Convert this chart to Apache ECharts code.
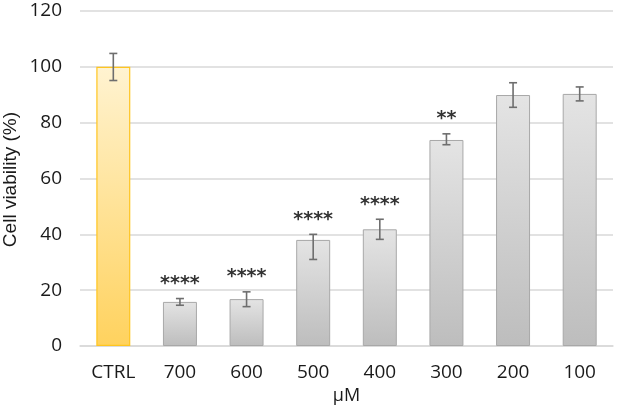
<!DOCTYPE html>
<html><head><meta charset="utf-8">
<script src="https://cdn.jsdelivr.net/npm/echarts@6/dist/echarts.min.js"></script>
<style>html,body{margin:0;padding:0;background:#fff}#c{width:622px;height:410px}</style>
</head><body><div id="c"></div>
<script>
var categories = ['CTRL','700','600','500','400','300','200','100'];
var values = [100, 15.8, 16.8, 38, 41.8, 73.8, 89.9, 90.3];
var errLow = [95.1, 14.6, 14.1, 31, 38.2, 72.1, 85.5, 87.8];
var errHigh = [104.8, 17, 19.4, 40, 45.4, 76, 94.3, 92.8];
var stars = ['', '****', '****', '****', '****', '**', '', ''];
var yTicks = [0, 20, 40, 60, 80, 100, 120];

var chart = echarts.init(document.getElementById('c'));
var grayGrad = new echarts.graphic.LinearGradient(0,0,0,1,[{offset:0,color:'#E4E4E4'},{offset:1,color:'#BDBDBD'}]);
var yelGrad = new echarts.graphic.LinearGradient(0,0,0,1,[{offset:0,color:'#FFF3D1'},{offset:1,color:'#FFD25E'}]);
var barData = values.map(function(v,i){
  return i===0 ? {value:v, itemStyle:{color:yelGrad, borderColor:'#FFC520', borderWidth:1.2}}
               : {value:v, itemStyle:{color:grayGrad, borderColor:'#A8A8A8', borderWidth:1}};
});
chart.setOption({
  animation:false,
  grid:{left:80, right:9, top:11, bottom:61},
  xAxis:{type:'category', data:categories,
    axisLine:{show:true, lineStyle:{color:'#D9D9D9', width:1.5}}, axisTick:{show:false},
    axisLabel:{fontFamily:'Open Sans', fontSize:19, color:'#1a1a1a', margin:17},
    name:'\u03bcM', nameLocation:'middle', nameGap:41,
    nameTextStyle:{fontFamily:'Open Sans', fontSize:18, color:'#1a1a1a'}},
  yAxis:{type:'value', min:0, max:120, interval:20,
    axisLine:{show:false}, axisTick:{show:false},
    splitLine:{lineStyle:{color:'#D9D9D9', width:1.5}},
    axisLabel:{fontFamily:'Open Sans', fontSize:19, color:'#1a1a1a', margin:18,
      formatter:function(v){return yTicks.indexOf(v)>=0?String(v):'';}}},
  graphic:[{type:'text', left:1, top:112, rotation:Math.PI/2,
    style:{text:'Cell viability (%)', font:'19px "Liberation Sans", Arial', fill:'#1a1a1a'}}],
  series:[
    {type:'bar', data:barData, barWidth:'51%', z:2},
    {type:'custom', z:3,
      data:categories.map(function(c,i){return [i, errLow[i], errHigh[i]];}),
      renderItem:function(params, api){
        var i = params.dataIndex;
        var x = api.value(0);
        var lo = api.coord([x, api.value(1)]);
        var hi = api.coord([x, api.value(2)]);
        var w = 4;
        var st = {stroke:'#6E6E6E', lineWidth:1.6};
        var ch = [
          {type:'line', shape:{x1:lo[0],y1:lo[1],x2:hi[0],y2:hi[1]}, style:st},
          {type:'line', shape:{x1:lo[0]-w,y1:lo[1],x2:lo[0]+w,y2:lo[1]}, style:st},
          {type:'line', shape:{x1:hi[0]-w,y1:hi[1],x2:hi[0]+w,y2:hi[1]}, style:st}
        ];
        if (stars[i]) ch.push({type:'text', x:hi[0], y:hi[1]-5,
          style:{text:stars[i], fill:'#333', font:'bold 19px "DejaVu Sans"', align:'center', verticalAlign:'bottom'}});
        return {type:'group', children:ch};
      }}
  ]
});
</script></body></html>
